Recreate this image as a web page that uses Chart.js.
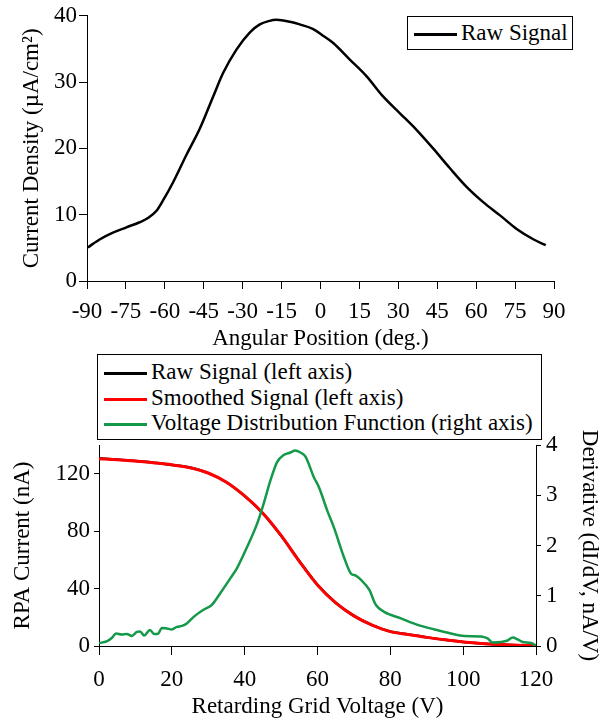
<!DOCTYPE html>
<html>
<head>
  <title>RPA Signal</title>
  <script src="https://cdn.jsdelivr.net/npm/chart.js"></script>
  <style>
    body {
      margin: 0;
      background-color: #fff;
      font-family: 'Liberation Serif', 'Times New Roman', serif;
    }
    #wrap {
      position: relative;
      width: 603px;
      height: 719px;
    }
    canvas {
      position: absolute;
      left: 0;
    }
    #angleChart { top: 0; }
    #rpaChart { top: 350px; }
    .legend {
      position: absolute;
      box-sizing: border-box;
      border: 1px solid #000;
      background-color: #fff;
      font-size: 23px;
      color: #000;
    }
    .legend .row {
      position: absolute;
      left: 0;
      height: 26px;
      line-height: 26px;
      white-space: nowrap;
    }
    .legend .swatch {
      display: inline-block;
      width: 43px;
      height: 0;
      border-top: 3px solid;
      vertical-align: middle;
      margin: 0 4px 0 6px;
    }
  </style>
</head>
<body>
  <div id="wrap">
    <canvas id="angleChart" width="603" height="350"></canvas>
    <canvas id="rpaChart" width="603" height="369"></canvas>

    <div class="legend" style="left:407px; top:16px; width:166px; height:34px;">
      <div class="row" style="top:3px;"><span class="swatch" style="border-color:#000;"></span>Raw Signal</div>
    </div>

    <div class="legend" style="left:97px; top:354px; width:445px; height:86px;">
      <div class="row" style="top:4px;"><span class="swatch" style="border-color:#000;"></span>Raw Signal (left axis)</div>
      <div class="row" style="top:30px;"><span class="swatch" style="border-color:#ff0000;"></span>Smoothed Signal (left axis)</div>
      <div class="row" style="top:55px;"><span class="swatch" style="border-color:#14994a;"></span>Voltage Distribution Function (right axis)</div>
    </div>
  </div>

  <script>
    // top panel: current density vs angle
    const angleDeg = [-89.7, -85, -80, -74.8, -69.7, -66.5, -63.2, -60.7, -56.8, -51.7, -46.5, -41.4, -37.5,
      -32.4, -27.2, -23.4, -20, -16.9, -11.8, -8, -2.8, 1, 4.9, 11.3, 17.7, 24.2, 30.6, 37, 43.4, 49.9,
      56.3, 62.7, 69.2, 75.6, 82, 86.8];
    const rawDensity = [5.06, 6.3, 7.3, 8.1, 8.86, 9.5, 10.6, 12.15, 14.9, 19.0, 23.0, 27.8, 31.4,
      34.9, 37.5, 38.7, 39.2, 39.4, 39.1, 38.7, 38.0, 37.0, 35.9, 33.4, 30.9, 27.8, 25.3, 22.8, 20.0, 17.0,
      14.2, 11.9, 9.9, 7.85, 6.3, 5.4];
    const angleTicks = [-90, -75, -60, -45, -30, -15, 0, 15, 30, 45, 60, 75, 90];

    // bottom panel: RPA sweep
    const gridVoltage = [0, 5, 10, 15, 20, 25, 30, 35, 40, 45, 50, 55, 60, 65, 70, 75, 80, 85, 90, 95,
      100, 105, 110, 115, 120];
    const rawCurrent = [130.7, 129.9, 128.8, 127.7, 126.1, 124.3, 120.4, 114.1, 104.4, 92.4, 76.8, 59.2,
      42.6, 30.1, 21.0, 14.6, 10.1, 8.1, 6.0, 4.3, 2.8, 1.7, 1.0, 0.5, 0.2];
    const smoothedCurrent = [130.5, 129.8, 128.8, 127.6, 126.2, 124.2, 120.5, 114.0, 104.5, 92.5, 77.0, 59.0,
      42.5, 30.0, 21.0, 14.5, 10.0, 8.0, 6.0, 4.3, 2.8, 1.7, 1.0, 0.5, 0.2];
    const vdfVoltage = [0, 2.1, 3.5, 4.7, 6.2, 7.6, 9.0, 10.4, 11.3, 12.4, 14.0, 15.1, 16.1, 17.3, 18.6,
      20.0, 21.4, 22.8, 24.1, 26.0, 28.7, 31.0, 33.3, 36.1, 37.9, 40.6, 43.4, 45.2, 47.1, 48.9, 50.7,
      52.6, 53.9, 55.3, 56.7, 59.0, 60.4, 62.7, 64.5, 67.3, 69.1, 70.5, 71.9, 74.2, 76.0, 78.3, 82.9,
      87.5, 92.1, 96.6, 100.3, 104.9, 106.7, 108.1, 110.4, 112.2, 113.6, 115.0, 116.3, 118.6, 120];
    const vdfDerivative = [0.06, 0.09, 0.16, 0.25, 0.23, 0.24, 0.2, 0.28, 0.29, 0.21, 0.32, 0.24, 0.24,
      0.36, 0.35, 0.33, 0.38, 0.40, 0.45, 0.58, 0.72, 0.82, 1.05, 1.35, 1.55, 1.96, 2.43, 2.83, 3.30, 3.66,
      3.80, 3.85, 3.89, 3.85, 3.77, 3.36, 3.16, 2.69, 2.36, 1.76, 1.45, 1.40, 1.32, 1.12, 0.82, 0.68, 0.55,
      0.42, 0.33, 0.25, 0.20, 0.19, 0.15, 0.07, 0.08, 0.11, 0.17, 0.13, 0.08, 0.06, 0.01];

    const font = { family: "'Liberation Serif', serif", size: 23 };
    Chart.defaults.color = '#000';
    Chart.defaults.font = font;

    function toPoints(xs, ys) {
      return xs.map((x, i) => ({ x: x, y: ys[i] }));
    }

    function axisBase() {
      return {
        border: { display: true, color: '#000', width: 1 },
        grid: { drawOnChartArea: false, drawTicks: true, color: '#000', tickColor: '#000' },
        ticks: { color: '#000', font: font },
        title: { display: true, color: '#000', font: font }
      };
    }

    function createAngleChart() {
      const x = axisBase();
      x.type = 'linear';
      x.min = -90;
      x.max = 90;
      x.grid.tickLength = 8;
      x.afterBuildTicks = s => { s.ticks = angleTicks.map(v => ({ value: v })); };
      x.ticks.padding = 9;
      x.ticks.maxRotation = 0;
      x.ticks.autoSkip = false;
      x.ticks.callback = v => String(v);
      x.title.text = 'Angular Position (deg.)';
      x.title.padding = { top: 0, bottom: -3 };
      x.afterFit = s => { s.height = 69; };

      const y = axisBase();
      y.min = 0;
      y.max = 40;
      y.grid.tickLength = 8;
      y.ticks.stepSize = 10;
      y.ticks.padding = 2;
      y.title.text = 'Current Density (\u00b5A/cm\u00b2)';
      y.title.padding = { top: 18, bottom: 0 };
      y.afterFit = s => { s.width = 87; };

      new Chart(document.getElementById('angleChart'), {
        type: 'line',
        data: {
          datasets: [{
            label: 'Raw Signal',
            data: toPoints(angleDeg, rawDensity),
            borderColor: '#000',
            borderWidth: 2.5,
            pointRadius: 0,
            cubicInterpolationMode: 'monotone',
            fill: false
          }]
        },
        options: {
          responsive: false,
          animation: false,
          layout: { padding: { top: 15, right: 49, left: 0, bottom: 0 } },
          plugins: { legend: { display: false }, tooltip: { enabled: false } },
          scales: { x: x, y: y }
        }
      });
    }

    function createRpaChart() {
      const x = axisBase();
      x.type = 'linear';
      x.min = 0;
      x.max = 120;
      x.grid.tickLength = 9;
      x.ticks.stepSize = 20;
      x.ticks.padding = 11;
      x.ticks.maxRotation = 0;
      x.title.text = 'Retarding Grid Voltage (V)';
      x.title.padding = { top: 0, bottom: -2 };
      x.afterFit = s => { s.height = 73; };

      const yLeft = axisBase();
      yLeft.position = 'left';
      yLeft.min = 0;
      yLeft.max = 140;
      yLeft.grid.tickLength = 5;
      yLeft.ticks.stepSize = 20;
      yLeft.ticks.padding = 4;
      yLeft.ticks.callback = v => (v % 40 === 0 ? String(v) : '');
      yLeft.title.text = 'RPA Current (nA)';
      yLeft.title.padding = { top: 9, bottom: 0 };
      yLeft.afterFit = s => { s.width = 99; };

      const yRight = axisBase();
      yRight.position = 'right';
      yRight.min = 0;
      yRight.max = 4;
      yRight.grid.tickLength = 5;
      yRight.ticks.stepSize = 1;
      yRight.ticks.padding = 5;
      yRight.title.text = 'Derivative (dI/dV, nA/V)';
      yRight.title.padding = { top: 0, bottom: 0 };
      yRight.afterFit = s => { s.width = 67; };

      new Chart(document.getElementById('rpaChart'), {
        type: 'line',
        data: {
          datasets: [{
            label: 'Raw Signal (left axis)',
            data: toPoints(gridVoltage, rawCurrent),
            yAxisID: 'yLeft',
            borderColor: '#000',
            borderWidth: 2.5,
            order: 3
          }, {
            label: 'Smoothed Signal (left axis)',
            data: toPoints(gridVoltage, smoothedCurrent),
            yAxisID: 'yLeft',
            borderColor: '#ff0000',
            borderWidth: 3,
            order: 2
          }, {
            label: 'Voltage Distribution Function (right axis)',
            data: toPoints(vdfVoltage, vdfDerivative),
            yAxisID: 'yRight',
            borderColor: '#14994a',
            borderWidth: 2.5,
            order: 1
          }]
        },
        options: {
          responsive: false,
          animation: false,
          datasets: { line: { pointRadius: 0, cubicInterpolationMode: 'monotone', fill: false } },
          layout: { padding: { top: 95, right: 0, left: 0, bottom: 0 } },
          plugins: { legend: { display: false }, tooltip: { enabled: false } },
          scales: { x: x, yLeft: yLeft, yRight: yRight }
        }
      });
    }

    window.onload = function() {
      createAngleChart();
      createRpaChart();
    };
  </script>
</body>
</html>
